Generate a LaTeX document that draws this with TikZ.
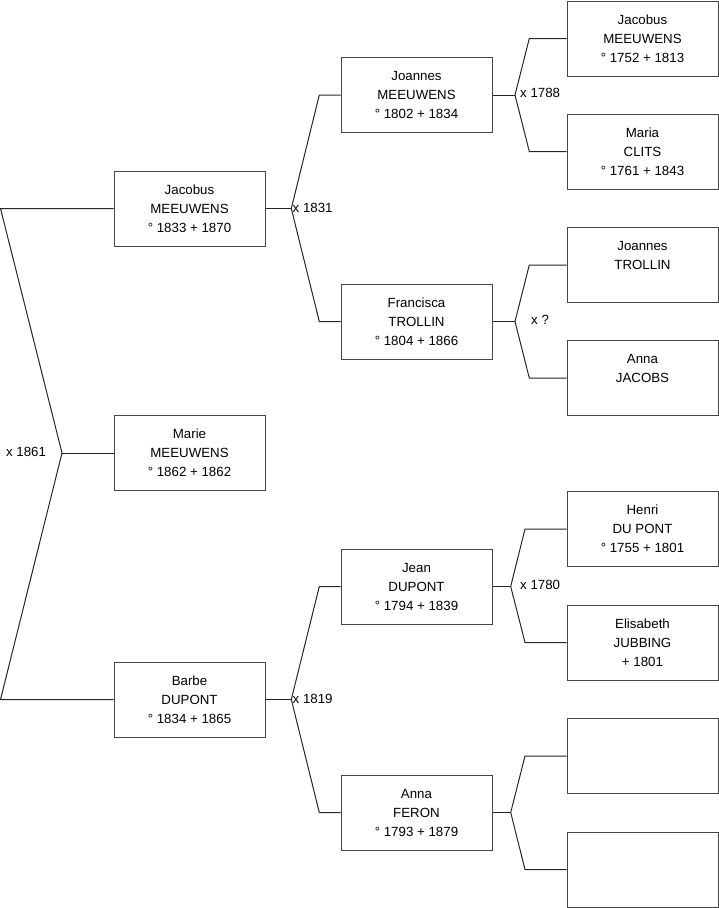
\documentclass[tikz,border=0pt]{standalone}
\usepackage{fontspec}
\setmainfont{Liberation Sans}
\begin{document}
\begin{tikzpicture}[x=1pt,y=-1pt,
  person/.style={draw={rgb,255:red,70;green,70;blue,70}, line width=1pt, fill=white,
    minimum width=151pt, minimum height=75pt, inner sep=0pt, align=center,
    font=\fontsize{13.3}{19}\selectfont},
  conn/.style={draw=black!85, line width=1pt},
  mlabel/.style={inner sep=0pt, font=\fontsize{13.3}{16}\selectfont}]
\useasboundingbox (0,0) rectangle (719,908);
% level 1
\node[person] (jac) at (189.5,208.5) {Jacobus\\MEEUWENS\\° 1833 + 1870};
\node[person] (mar) at (189.5,453) {Marie\\MEEUWENS\\° 1862 + 1862};
\node[person] (bar) at (189.5,699.5) {Barbe\\DUPONT\\° 1834 + 1865};
% level 2
\node[person] (joa) at (416.5,95) {Joannes\\MEEUWENS\\° 1802 + 1834};
\node[person] (fra) at (416.5,321.5) {Francisca\\TROLLIN\\° 1804 + 1866};
\node[person] (jea) at (416.5,586.5) {Jean\\DUPONT\\° 1794 + 1839};
\node[person] (ann) at (416.5,812.5) {Anna\\FERON\\° 1793 + 1879};
% level 3
\node[person] (g1) at (642.5,38.5) {Jacobus\\MEEUWENS\\° 1752 + 1813};
\node[person] (g2) at (642.5,151.5) {Maria\\CLITS\\° 1761 + 1843};
\node[person] (g3) at (642.5,265) {Joannes\\TROLLIN\\\mbox{}};
\node[person] (g4) at (642.5,378) {Anna\\JACOBS\\\mbox{}};
\node[person] (g5) at (642.5,529) {Henri\\DU PONT\\° 1755 + 1801};
\node[person] (g6) at (642.5,642.5) {Elisabeth\\JUBBING\\+ 1801};
\node[person] (g7) at (642.5,756) {};
\node[person] (g8) at (642.5,869.5) {};
% junction coordinates
\coordinate (r0) at (0.5,208.5);
\coordinate (rj) at (62,453);
\coordinate (r2) at (0.5,699.5);
\coordinate (ja) at (291.3,208.5);
\coordinate (jau) at (319.3,95);
\coordinate (jad) at (319.3,321.5);
\coordinate (jb) at (291.3,699.5);
\coordinate (jbu) at (319.3,586.5);
\coordinate (jbd) at (319.3,812.5);
\coordinate (jc) at (515,95);
\coordinate (jcu) at (529.3,38.5);
\coordinate (jcd) at (529.3,151.5);
\coordinate (jd) at (515,321.5);
\coordinate (jdu) at (529.3,265);
\coordinate (jdd) at (529.3,378);
\coordinate (je) at (510.7,586.5);
\coordinate (jeu) at (525,529);
\coordinate (jed) at (525,642.5);
\coordinate (jf) at (510.7,812.5);
\coordinate (jfu) at (525,756);
\coordinate (jfd) at (525,869.5);
% connectors
\draw[conn] (jac.west) -- (r0) -- (rj) -- (r2) -- (bar.west);
\draw[conn] (rj) -- (mar.west);
\draw[conn] (jac.east) -- (ja);
\draw[conn] (joa.west) -- (jau) -- (ja) -- (jad) -- (fra.west);
\draw[conn] (bar.east) -- (jb);
\draw[conn] (jea.west) -- (jbu) -- (jb) -- (jbd) -- (ann.west);
\draw[conn] (joa.east) -- (jc);
\draw[conn] (g1.west) -- (jcu) -- (jc) -- (jcd) -- (g2.west);
\draw[conn] (fra.east) -- (jd);
\draw[conn] (g3.west) -- (jdu) -- (jd) -- (jdd) -- (g4.west);
\draw[conn] (jea.east) -- (je);
\draw[conn] (g5.west) -- (jeu) -- (je) -- (jed) -- (g6.west);
\draw[conn] (ann.east) -- (jf);
\draw[conn] (g7.west) -- (jfu) -- (jf) -- (jfd) -- (g8.west);
% marriage labels
\node[mlabel] (m1) at (26,452) {x 1861};
\node[mlabel, anchor=west] (m2) at (292.5,208) {x 1831};
\node[mlabel, anchor=west] (m3) at (292.5,699) {x 1819};
\node[mlabel, anchor=west] (m4) at (520,93) {x 1788};
\node[mlabel, anchor=west] (m5) at (531,320) {x ?};
\node[mlabel, anchor=west] (m6) at (520,585) {x 1780};
\end{tikzpicture}
\end{document}
